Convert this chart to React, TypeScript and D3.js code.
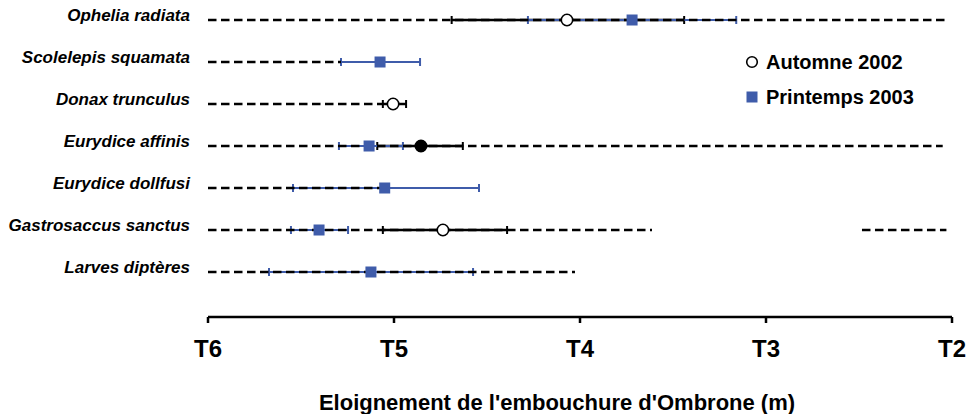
import React from "react";
import * as d3 from "d3";

// Species (rows, top to bottom)
const species = [
  "Ophelia radiata",
  "Scolelepis squamata",
  "Donax trunculus",
  "Eurydice affinis",
  "Eurydice dollfusi",
  "Gastrosaccus sanctus",
  "Larves diptères",
];

// Axis: transects, position index (T6 = 0 ... T2 = 4)
const tickLabels = ["T6", "T5", "T4", "T3", "T2"];
const tickValues = [0, 1, 2, 3, 4];

// Presence range (dashed black), one or more segments per species [start, end]
const presence: [number, number][][] = [
  [[0, 3.97]],
  [[0, 0.715]],
  [[0, 0.94]],
  [[0, 3.95]],
  [[0, 0.95]],
  [[0, 2.387], [3.516, 3.97]],
  [[0, 1.973]],
];

// Automne 2002 (black): mean, low, high (null = absent)
const autMean: (number | null)[] = [1.93, null, 0.995, 1.145, null, 1.263, null];
const autLow: (number | null)[] = [1.31, null, 0.94, 0.91, null, 0.94, null];
const autHigh: (number | null)[] = [2.56, null, 1.065, 1.37, null, 1.608, null];
const autFilled: boolean[] = [false, false, false, true, false, false, false];

// Printemps 2003 (blue): mean, low, high
const priMean: (number | null)[] = [2.28, 0.925, null, 0.866, 0.95, 0.597, 0.876];
const priLow: (number | null)[] = [1.72, 0.715, null, 0.704, 0.457, 0.446, 0.328];
const priHigh: (number | null)[] = [2.84, 1.14, null, 1.048, 1.457, 0.753, 1.425];

const legendLabels = ["Automne 2002", "Printemps 2003"];
const axisTitle = "Eloignement de l'embouchure d'Ombrone (m)";

const BLUE = "#3F5CAA";
const FONT = "'Liberation Sans', Arial, Helvetica, sans-serif";

export default function App() {
  const W = 970;
  const H = 414;
  const x = d3.scaleLinear().domain([0, 4]).range([208, 952]);
  const y = d3.scalePoint<string>().domain(species).range([20, 272]);
  const axisY = 317;
  const capH = 4;

  return (
    <svg
      width={W}
      height={H}
      style={{ position: "absolute", left: 0, top: 0, background: "#fff" }}
      fontFamily={FONT}
    >
      {species.map((s, i) => {
        const yy = y(s)!;
        return (
          <g key={s}>
            <text
              x={190}
              y={yy + 1}
              textAnchor="end"
              fontSize={17}
              fontWeight="bold"
              fontStyle="italic"
              fill="#000"
            >
              {s}
            </text>
            {/* Automne error bar */}
            {autMean[i] !== null && (
              <g stroke="#000" strokeWidth={2.5}>
                <line x1={x(autLow[i]!)} x2={x(autHigh[i]!)} y1={yy} y2={yy} />
                <line x1={x(autLow[i]!)} x2={x(autLow[i]!)} y1={yy - capH} y2={yy + capH} strokeWidth={2} />
                <line x1={x(autHigh[i]!)} x2={x(autHigh[i]!)} y1={yy - capH} y2={yy + capH} strokeWidth={2} />
              </g>
            )}
            {/* Printemps error bar */}
            {priMean[i] !== null && (
              <g stroke={BLUE} strokeWidth={2}>
                <line x1={x(priLow[i]!)} x2={x(priHigh[i]!)} y1={yy} y2={yy} />
                <line x1={x(priLow[i]!)} x2={x(priLow[i]!)} y1={yy - capH} y2={yy + capH} />
                <line x1={x(priHigh[i]!)} x2={x(priHigh[i]!)} y1={yy - capH} y2={yy + capH} />
              </g>
            )}
            {/* presence dashed */}
            {presence[i].map((seg, j) => (
              <line
                key={j}
                x1={x(seg[0])}
                x2={x(seg[1])}
                y1={yy}
                y2={yy}
                stroke="#000"
                strokeWidth={2.5}
                strokeDasharray="8.5 4.5"
              />
            ))}
            {/* markers */}
            {priMean[i] !== null && (
              <rect
                x={x(priMean[i]!) - 5.5}
                y={yy - 5.5}
                width={11}
                height={11}
                fill={BLUE}
              />
            )}
            {autMean[i] !== null && (
              <circle
                cx={x(autMean[i]!)}
                cy={yy}
                r={5.7}
                fill={autFilled[i] ? "#000" : "#fff"}
                stroke="#000"
                strokeWidth={1.6}
              />
            )}
          </g>
        );
      })}

      {/* Legend */}
      <circle cx={752} cy={62} r={5.3} fill="#fff" stroke="#000" strokeWidth={1.6} />
      <text x={766} y={69} fontSize={20} fontWeight="bold" fill="#000">
        {legendLabels[0]}
      </text>
      <rect x={746.5} y={91.5} width={11} height={11} fill={BLUE} />
      <text x={766} y={104} fontSize={20} fontWeight="bold" fill="#000">
        {legendLabels[1]}
      </text>

      {/* X axis */}
      <line x1={x(0)} x2={x(4)} y1={axisY} y2={axisY} stroke="#000" strokeWidth={2.5} />
      {tickValues.map((v, i) => (
        <g key={v}>
          <line x1={x(v)} x2={x(v)} y1={axisY} y2={axisY + 6} stroke="#000" strokeWidth={2.5} />
          <text
            x={x(v)}
            y={357}
            textAnchor="middle"
            fontSize={24}
            fontWeight="bold"
            fill="#000"
          >
            {tickLabels[i]}
          </text>
        </g>
      ))}
      <text x={557} y={410} textAnchor="middle" fontSize={22} fontWeight="bold" fill="#000">
        {axisTitle}
      </text>
    </svg>
  );
}
